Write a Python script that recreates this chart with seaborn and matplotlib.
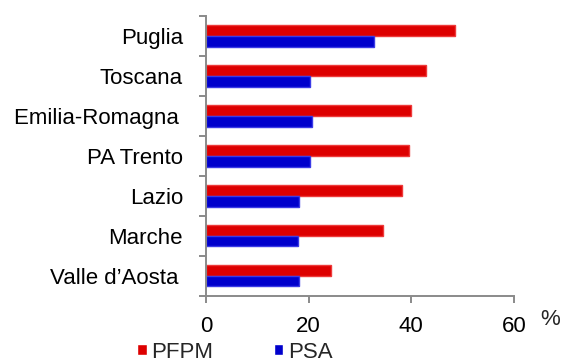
import matplotlib
matplotlib.use("Agg")
import matplotlib.pyplot as plt
import seaborn as sns
import pandas as pd
import numpy as np

# Regions and percentages for the two indicators
regions = ["Puglia", "Toscana", "Emilia-Romagna\u2009", "PA Trento", "Lazio", "Marche", "Valle d\u2019Aosta\u2009"]
pfpm = [48.5, 42.8, 39.9, 39.5, 38.1, 34.5, 24.3]
psa = [32.8, 20.3, 20.7, 20.3, 18.2, 17.9, 18.2]
series = ["PFPM", "PSA"]
x_ticks = [0, 20, 40, 60]

colors = {"PFPM": "#DD0000", "PSA": "#0000CC"}
edges = {"PFPM": "#EE3A3A", "PSA": "#3A3AE6"}

df = pd.DataFrame({
    "region": regions * 2,
    "value": pfpm + psa,
    "series": [series[0]] * len(regions) + [series[1]] * len(regions),
})

sns.set_theme(style="white")
plt.rcParams["font.family"] = ["Liberation Sans", "DejaVu Sans"]

FS = 16
GREY = "#8A8A8A"

fig = plt.figure(figsize=(5.61, 3.58), dpi=100)
ax = fig.add_axes([206 / 561, 1 - 295.6 / 358, 308 / 561, 279.6 / 358])

sns.barplot(data=df, y="region", x="value", hue="series", hue_order=series,
            order=regions, palette=colors, width=0.54, orient="h", ax=ax,
            saturation=1, linewidth=1.0)

for container, s in zip(ax.containers, series):
    for bar in container:
        bar.set_edgecolor(edges[s])

ax.set_xlim(0, 60)
ax.set_ylim(len(regions) - 0.5, -0.5)
ax.set_xticks(x_ticks)
ax.set_xticklabels([str(t) for t in x_ticks])
ax.set_xlabel("")
ax.set_ylabel("")

sns.despine(ax=ax, top=True, right=True)
for side in ("left", "bottom"):
    ax.spines[side].set_color(GREY)
    ax.spines[side].set_linewidth(1.4)

# category boundary ticks on the y axis
ax.set_yticks(np.arange(-0.5, len(regions), 1.0), minor=True)
ax.tick_params(axis="y", which="major", length=0, pad=16.5, labelsize=FS, labelcolor="black")
ax.tick_params(axis="y", which="minor", left=True, length=5, width=1.4, color=GREY, direction="out")
ax.tick_params(axis="x", which="major", bottom=True, length=5, width=1.4, color=GREY,
               direction="out", pad=10.0, labelsize=FS, labelcolor="black")

fig.text(550 / 561, 1 - 319.7 / 358, "%", fontsize=FS, ha="center", va="center")

sns.move_legend(ax, loc="upper left", bbox_to_anchor=(137.3 / 561, 0.046),
                bbox_transform=fig.transFigure, ncol=2, frameon=False, title=None,
                fontsize=FS, handlelength=0.42, handleheight=0.42,
                handletextpad=0.22, columnspacing=2.7, borderpad=0,
                borderaxespad=0)

fig.savefig("out.png", dpi=100)
